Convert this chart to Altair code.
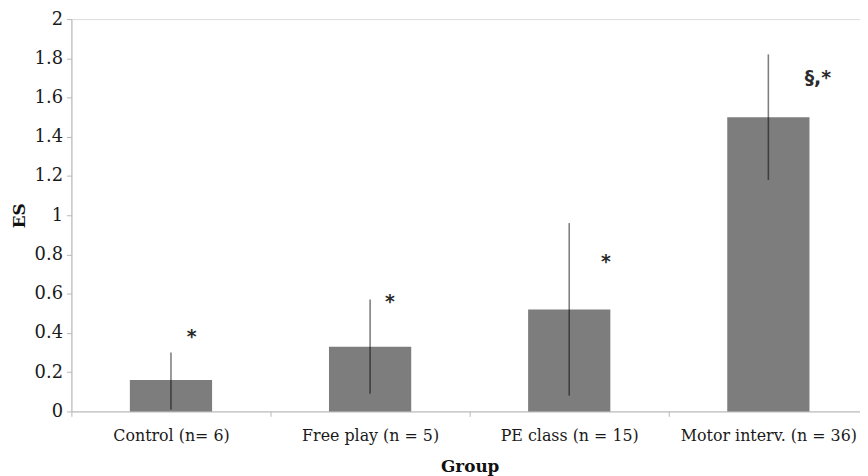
import altair as alt
import pandas as pd

# ---- data ----
groups = ["Control (n= 6)", "Free play (n = 5)", "PE class (n = 15)", "Motor interv. (n = 36)"]
es = [0.16, 0.33, 0.52, 1.50]
es_low = [0.01, 0.09, 0.08, 1.18]
es_high = [0.30, 0.57, 0.96, 1.82]
marks = ["*", "*", "*", "§,*"]
mark_level = [0.40, 0.58, 0.78, 1.72]
y_ticks = [0, 0.2, 0.4, 0.6, 0.8, 1.0, 1.2, 1.4, 1.6, 1.8, 2.0]

# styling (horizontal offsets of the significance marks, in px)
mark_dx = [21, 20, 37, 50]

df = pd.DataFrame({"group": groups, "es": es, "lo": es_low, "hi": es_high,
                   "mark": marks, "level": mark_level})

FONT = "DejaVu Serif"
xscale = alt.Scale(domain=groups, range=[0, 804], paddingInner=0, paddingOuter=0)
yscale = alt.Scale(domain=[0, 2], nice=False, zero=True)

x_axis = alt.Axis(title="Group", labelAngle=0, tickBand="extent",
                  labelFont=FONT, labelFontSize=16, labelColor="#1a1a1a",
                  labelPadding=11, labelOverlap=False,
                  titleFont=FONT, titleFontSize=17,
                  titleFontWeight="bold", titleColor="#111", titlePadding=16,
                  domainColor="#b8b8b8", tickColor="#b8b8b8", tickSize=5,
                  grid=False)
y_axis = alt.Axis(title="ES", values=y_ticks, format="~g",
                  labelFont=FONT, labelFontSize=18, labelColor="#1a1a1a",
                  labelPadding=4, labelOverlap=False, labelFlush=False,
                  tickSize=5, tickColor="#b8b8b8",
                  domainColor="#b8b8b8", grid=False,
                  titleFont=FONT, titleFontSize=17, titleFontWeight="bold",
                  titleColor="#111", titleX=-52, titleY=198,
                  titleAlign="center", titleBaseline="middle")

def xe():
    return alt.X("group:N", scale=xscale, sort=groups, axis=x_axis, title="Group")

def ye(field):
    return alt.Y(field, scale=yscale, axis=y_axis, title="ES")

bars = alt.Chart(df).mark_bar(size=83, color="#7d7d7d").encode(x=xe(), y=ye("es:Q"))

errs = alt.Chart(df).mark_rule(color="black", opacity=0.5, strokeWidth=1.6).encode(
    x=xe(), y=ye("lo:Q"), y2="hi:Q",
)

layers = [bars, errs]
for i, g in enumerate(groups):
    layers.append(
        alt.Chart(df[df["group"] == g]).mark_text(
            dx=mark_dx[i], dy=4, font="DejaVu Sans", fontSize=19, color="#2a2a2a",
            fontWeight="bold", baseline="middle", align="center"
        ).encode(x=xe(), y=ye("level:Q"), text="mark:N")
    )

chart = alt.layer(*layers).properties(
    width=796, height=396,
    autosize=alt.AutoSizeParams(type="none"),
    padding={"left": 64, "top": 9, "right": 0, "bottom": 63},
).configure_view(stroke=None).configure(background="white")

chart.save("out.html", embed_options={"renderer": "svg", "actions": False})
